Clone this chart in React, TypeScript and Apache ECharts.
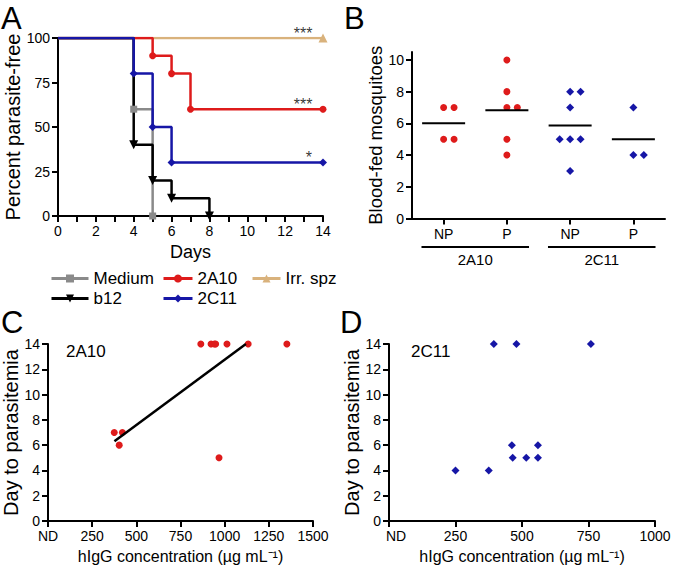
import React, { useEffect, useRef } from 'react';
import * as echarts from 'echarts';

// ---------- Panel A: Kaplan-Meier (day, percent parasite-free) ----------
const survMedium = [[0, 100], [4, 60], [5, 0]];
const survB12 = [[0, 100], [4, 40], [5, 20], [6, 10], [8, 0]];
const surv2A10 = [[0, 100], [5, 90], [6, 80], [7, 60], [14, 60]];
const surv2C11 = [[0, 100], [4, 80], [5, 50], [6, 30], [14, 30]];
const survIrr = [[0, 100], [14, 100]];
const starNotes: [number, number, string][] = [[12.95, 100, '***'], [12.95, 60, '***'], [13.25, 30, '*']];

// ---------- Panel B: blood-fed mosquitoes ----------
const bCategories = ['NP', 'P', 'NP', 'P'];
const bGroups = ['2A10', '2C11'];
const fed2A10NP = [7, 7, 5, 5];
const fed2A10P = [10, 8, 7, 7, 5, 4];
const fed2C11NP = [8, 8, 7, 5, 5, 5, 3];
const fed2C11P = [7, 4, 4];

// ---------- Panel C: 2A10 ----------
const c2A10Conc = [375, 421, 403, 968, 865, 923, 942, 949, 1013, 1133, 1352];
const c2A10Day = [7, 7, 6, 5, 14, 14, 14, 14, 14, 14, 14];
const fit2A10 = [[376, 6.3], [1120, 14]];

// ---------- Panel D: 2C11 ----------
const d2C11Conc = [394, 479, 759, 462, 560, 465, 516, 560, 250, 375];
const d2C11Day = [14, 14, 14, 6, 6, 5, 5, 5, 4, 4];

const RED = '#DE1B1B';
const BLUE = '#1616A6';
const GRAY = '#8A8A8A';
const TAN = '#D9B27C';
const FONT = '"Liberation Sans", Arial, Helvetica, sans-serif';

const axisLineStyle = { lineStyle: { color: '#000', width: 2 } };
const tickStyle = { show: true, length: 6, lineStyle: { color: '#000', width: 2 } };
const labelStyle = { color: '#000', fontSize: 14, margin: 8 };

function jitter(vals: number[], center: number, step: number) {
  const counts: Record<number, number> = {};
  vals.forEach((v) => (counts[v] = (counts[v] || 0) + 1));
  const seen: Record<number, number> = {};
  return vals.map((v) => {
    const k = counts[v];
    const i = seen[v] || 0;
    seen[v] = i + 1;
    return [center + (i - Math.floor((k - 1) / 2)) * step, v];
  });
}
const mean = (a: number[]) => a.reduce((s, v) => s + v, 0) / a.length;

function kmData(pts: number[][]) {
  return pts.map((p, i) => (i === 0 ? { value: p, symbol: 'none' } : { value: p }));
}

export default function App() {
  const ref = useRef<HTMLDivElement>(null);
  useEffect(() => {
    document.body.style.margin = '0';
    const chart = echarts.init(ref.current!, null, { renderer: 'svg' });

    const kmSeries = (name: string, data: number[][], color: string, symbol: string, size: number, rotate = 0) => ({
      name,
      type: 'line',
      step: 'end',
      xAxisIndex: 0,
      yAxisIndex: 0,
      data: kmData(data),
      symbol,
      symbolSize: size,
      symbolRotate: rotate,
      showAllSymbol: true,
      lineStyle: { color, width: 2.5 },
      itemStyle: { color },
    });

    const bSets = [fed2A10NP, fed2A10P, fed2C11NP, fed2C11P];
    const bScatter = bSets.map((vals, i) => ({
      type: 'scatter',
      xAxisIndex: 1,
      yAxisIndex: 1,
      symbol: i < 2 ? 'circle' : 'diamond',
      symbolSize: i < 2 ? 7 : 8,
      itemStyle: { color: i < 2 ? RED : BLUE, opacity: 1 },
      data: jitter(vals, i + 1, 0.165),
    }));
    const bMeans = bSets.map((vals, i) => ({
      type: 'line',
      xAxisIndex: 1,
      yAxisIndex: 1,
      symbol: 'none',
      lineStyle: { color: '#000', width: 2 },
      data: [[i + 1 - 0.34, mean(vals)], [i + 1 + 0.34, mean(vals)]],
    }));

    const yTitle = (name: string, gap: number, size: number) => ({
      name,
      nameLocation: 'middle',
      nameGap: gap,
      nameTextStyle: { color: '#000', fontSize: size },
    });

    const legendBase = {
      orient: 'vertical',
      top: 270,
      itemHeight: 10,
      itemGap: 3,
      padding: 0,
      lineStyle: { width: 3 },
      textStyle: { color: '#000', fontSize: 17, lineHeight: 17 },
    };

    const option: any = {
      animation: false,
      textStyle: { fontFamily: FONT },
      grid: [
        { left: 58, top: 38, width: 265, height: 178, outerBoundsMode: 'none' },
        { left: 412, top: 52, width: 253, height: 166.5, outerBoundsMode: 'none' },
        { left: 48, top: 344, width: 265, height: 177, outerBoundsMode: 'none' },
        { left: 389, top: 344, width: 266, height: 177, outerBoundsMode: 'none' },
      ],
      xAxis: [
        {
          gridIndex: 0, type: 'value', min: 0, max: 14, interval: 1,
          axisLine: axisLineStyle, axisTick: tickStyle, splitLine: { show: false },
          axisLabel: { ...labelStyle, customValues: [0, 2, 4, 6, 8, 10, 12, 14] },
          name: 'Days', nameLocation: 'middle', nameGap: 27,
          nameTextStyle: { color: '#000', fontSize: 18 },
        },
        {
          gridIndex: 1, type: 'value', min: 0.5, max: 4.5,
          axisLine: axisLineStyle, splitLine: { show: false },
          axisTick: { ...tickStyle, customValues: [1, 2, 3, 4] },
          axisLabel: { ...labelStyle, customValues: [1, 2, 3, 4], formatter: (v: number) => bCategories[Math.round(v) - 1] },
        },
        {
          gridIndex: 2, type: 'value', min: 0, max: 1500, interval: 250,
          axisLine: axisLineStyle, axisTick: tickStyle, splitLine: { show: false },
          axisLabel: { ...labelStyle, formatter: (v: number) => (v === 0 ? 'ND' : String(v)) },
          name: 'hIgG concentration (µg mL⁻¹)', nameLocation: 'middle', nameGap: 27,
          nameTextStyle: { color: '#000', fontSize: 16 },
        },
        {
          gridIndex: 3, type: 'value', min: 0, max: 1000, interval: 250,
          axisLine: axisLineStyle, axisTick: tickStyle, splitLine: { show: false },
          axisLabel: {
            ...labelStyle,
            formatter: (v: number) => (v === 0 ? '{nd|ND}' : String(v)),
            rich: { nd: { fontSize: 14, color: '#000', padding: [0, 0, 0, 14] } },
          },
          name: 'hIgG concentration (µg mL⁻¹)', nameLocation: 'middle', nameGap: 27,
          nameTextStyle: { color: '#000', fontSize: 16 },
        },
      ],
      yAxis: [
        {
          gridIndex: 0, type: 'value', min: 0, max: 100, interval: 25,
          axisLine: { show: true, ...axisLineStyle }, axisTick: tickStyle, splitLine: { show: false },
          axisLabel: labelStyle,
          ...yTitle('Percent parasite-free', 30, 20),
        },
        {
          gridIndex: 1, type: 'value', min: 0, max: 10.5,
          axisLine: { show: true, ...axisLineStyle }, splitLine: { show: false },
          axisTick: { ...tickStyle, customValues: [0, 2, 4, 6, 8, 10] },
          axisLabel: { ...labelStyle, customValues: [0, 2, 4, 6, 8, 10] },
          ...yTitle('Blood-fed mosquitoes', 24, 18.5),
        },
        {
          gridIndex: 2, type: 'value', min: 0, max: 14, interval: 2,
          axisLine: { show: true, ...axisLineStyle }, axisTick: tickStyle, splitLine: { show: false },
          axisLabel: labelStyle,
          ...yTitle('Day to parasitemia', 27, 20),
        },
        {
          gridIndex: 3, type: 'value', min: 0, max: 14, interval: 2,
          axisLine: { show: true, ...axisLineStyle }, axisTick: tickStyle, splitLine: { show: false },
          axisLabel: labelStyle,
          ...yTitle('Day to parasitemia', 27, 20),
        },
      ],
      legend: [
        { ...legendBase, left: 50, itemWidth: 37, data: ['Medium', 'b12'] },
        { ...legendBase, left: 162, itemWidth: 29, data: ['2A10', '2C11'] },
        { ...legendBase, left: 251, itemWidth: 28, data: ['Irr. spz'] },
      ],
      series: [
        kmSeries('Irr. spz', survIrr, TAN, 'triangle', 9),
        kmSeries('2A10', surv2A10, RED, 'circle', 7),
        kmSeries('Medium', survMedium, GRAY, 'rect', 7),
        kmSeries('b12', survB12, '#000', 'triangle', 9, 180),
        kmSeries('2C11', surv2C11, BLUE, 'diamond', 8),
        {
          type: 'scatter', xAxisIndex: 0, yAxisIndex: 0, symbolSize: 0, silent: true,
          data: starNotes.map((s) => ({ value: [s[0], s[1]], name: s[2] })),
          label: { show: true, position: 'inside', offset: [0, -5], formatter: (p: any) => p.name, color: '#000', fontSize: 16 },
        },
        ...bScatter,
        ...bMeans,
        {
          type: 'line', xAxisIndex: 2, yAxisIndex: 2, symbol: 'none',
          lineStyle: { color: '#000', width: 2.5 }, data: fit2A10,
        },
        {
          type: 'scatter', xAxisIndex: 2, yAxisIndex: 2, symbol: 'circle', symbolSize: 7,
          itemStyle: { color: RED, opacity: 1 },
          data: c2A10Conc.map((x, i) => [x, c2A10Day[i]]),
        },
        {
          type: 'scatter', xAxisIndex: 3, yAxisIndex: 3, symbol: 'diamond', symbolSize: 8,
          itemStyle: { color: BLUE, opacity: 1 },
          data: d2C11Conc.map((x, i) => [x, d2C11Day[i]]),
        },
      ],
    };
    chart.setOption(option);

    // Group brackets under panel B, from axis conversion
    const yAx = chart.convertToPixel({ yAxisIndex: 1 } as any, 0) as number;
    const lineY = yAx + 28.5;
    const graphics: any[] = [];
    bGroups.forEach((g, gi) => {
      const c = gi * 2 + 1.5;
      const x1 = chart.convertToPixel({ xAxisIndex: 1 } as any, c - 0.85) as number;
      const x2 = chart.convertToPixel({ xAxisIndex: 1 } as any, c + 0.85) as number;
      graphics.push({ type: 'line', shape: { x1, y1: lineY, x2, y2: lineY }, style: { stroke: '#000', lineWidth: 2 } });
      graphics.push({
        type: 'text', x: (x1 + x2) / 2, y: lineY + 12,
        style: { text: g, fill: '#000', fontSize: 15, fontFamily: FONT, textAlign: 'center', textVerticalAlign: 'middle' },
      });
    });
    const letter = (t: string, x: number, y: number) => ({
      type: 'text', x, y,
      style: { text: t, fill: '#000', fontSize: 31, fontFamily: FONT, textAlign: 'left', textVerticalAlign: 'middle' },
    });
    graphics.push(letter('A', 1, 18), letter('B', 344, 18.5), letter('C', 1, 322), letter('D', 340, 322));
    graphics.push({
      type: 'text', x: 66, y: 351,
      style: { text: '2A10', fill: '#000', fontSize: 17, fontFamily: FONT, textAlign: 'left', textVerticalAlign: 'middle' },
    });
    graphics.push({
      type: 'text', x: 411, y: 351,
      style: { text: '2C11', fill: '#000', fontSize: 17, fontFamily: FONT, textAlign: 'left', textVerticalAlign: 'middle' },
    });
    chart.setOption({ graphic: graphics });

    return () => chart.dispose();
  }, []);
  return <div ref={ref} style={{ width: 674, height: 567 }} />;
}
